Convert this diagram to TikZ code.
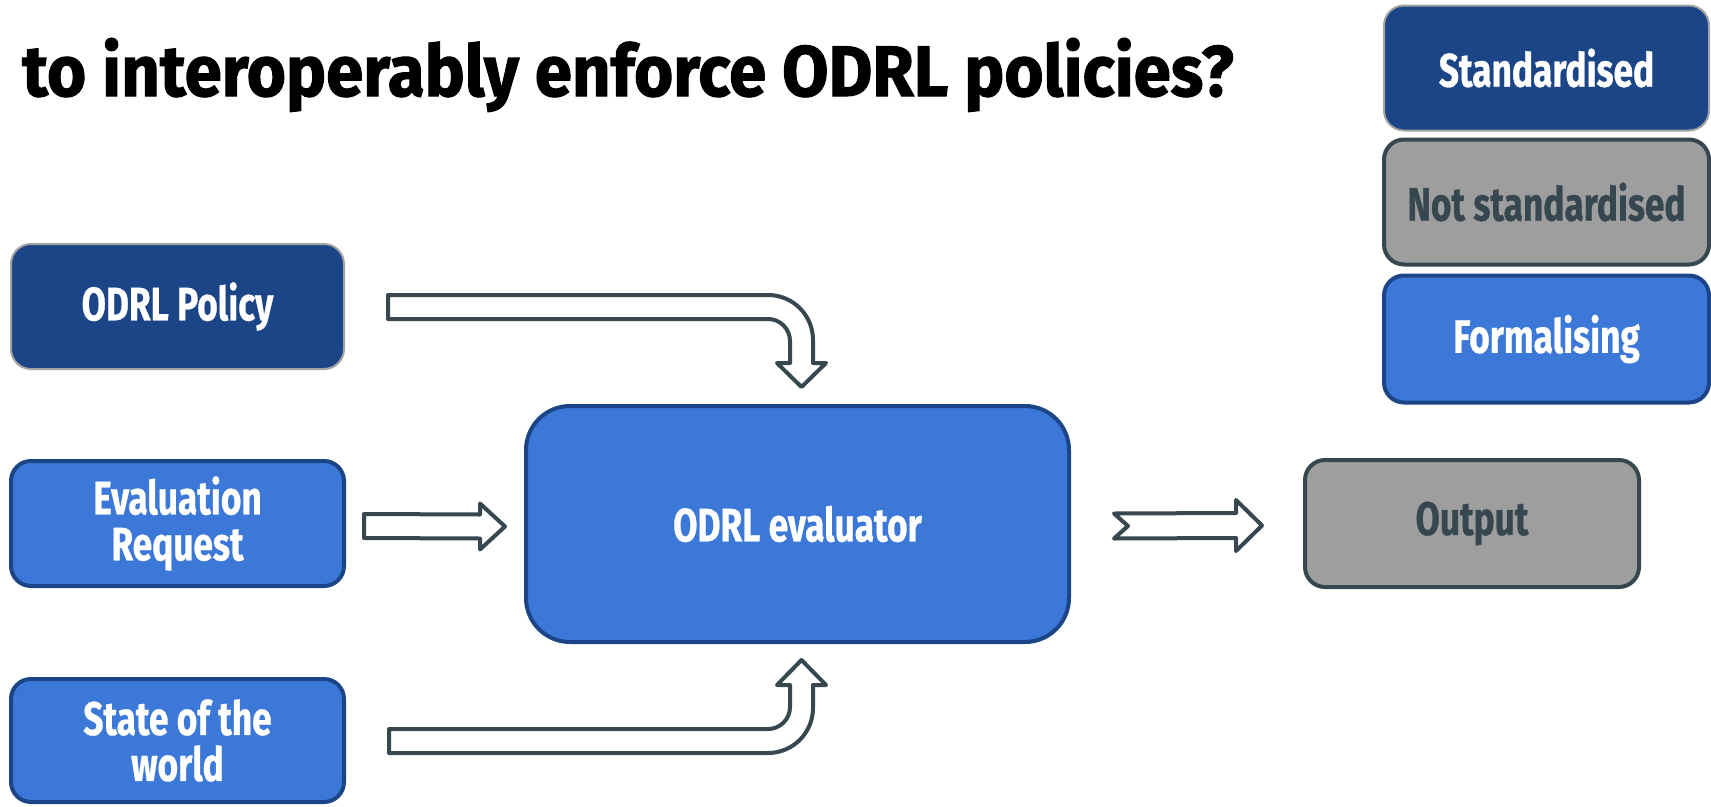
\documentclass[tikz,border=0pt]{standalone}
\usepackage{fontspec}
\setmainfont{Fira Sans}[FakeStretch=0.75, BoldFeatures={FakeBold=0.6}]
\newfontfamily\titlefont{Fira Sans}[BoldFeatures={FakeBold=1.5}]
\usetikzlibrary{calc}
\definecolor{dblue}{HTML}{1C4587}
\definecolor{lblue}{HTML}{3C78D8}
\definecolor{gfill}{HTML}{9E9E9E}
\definecolor{slate}{HTML}{37474F}
\definecolor{gborder}{HTML}{A3A3A3}
\tikzset{
  base/.style={rectangle, rounded corners=20, align=center, inner sep=0pt,
    font=\fontsize{47}{46}\selectfont\bfseries},
  stdbox/.style={base, fill=dblue, draw=gborder, line width=2, text=white},
  formbox/.style={base, fill=lblue, draw=dblue, line width=4, text=white},
  nstdbox/.style={base, fill=gfill, draw=slate, line width=4, text=slate},
  blk/.style={fill=white, draw=slate, line width=4, line join=round},
}
\begin{document}
\begin{tikzpicture}[x=1pt,y=-1pt]
\useasboundingbox[fill=white] (0,0) rectangle (1711,806);
\node[anchor=base west, inner sep=0pt] (title) at (22,96) {\resizebox{1211pt}{58pt}{\titlefont\bfseries to interoperably enforce ODRL policies?}};
% legend
\node[stdbox, minimum width=325, minimum height=125] (lstd) at (1546.5,68) {Standardised};
\node[nstdbox, minimum width=325, minimum height=125] (lnstd) at (1546.5,202) {Not standardised};
\node[formbox, minimum width=325, minimum height=127] (lform) at (1546.5,339) {Formalising};
% inputs
\node[stdbox, minimum width=333, minimum height=125] (pol) at (177.5,306.5) {ODRL Policy};
\node[formbox, minimum width=333, minimum height=125] (req) at (177.5,523.5) {Evaluation\\Request};
\node[formbox, minimum width=333, minimum height=123] (sta) at (177.5,740.5) {State of the\\world};
\node[formbox, rounded corners=44, minimum width=543, minimum height=236] (eval) at (797.5,524) {ODRL evaluator};
\node[nstdbox, minimum width=334, minimum height=127] (out) at (1472,523.5) {Output};
% arrow request -> evaluator
\coordinate (t1) at ($(req.east)+(18,2.5)$);
\coordinate (p1) at ($(eval.west)+(-19,2.5)$);
\draw[blk] ($(t1)+(0,-12)$) -- ($(p1)+(-25,-12)$) -- ($(p1)+(-25,-23)$) -- (p1)
  -- ($(p1)+(-25,23)$) -- ($(p1)+(-25,12)$) -- ($(t1)+(0,12)$) -- cycle;
% arrow evaluator -> output
\coordinate (t2) at ($(eval.east)+(43,2)$);
\coordinate (p2) at ($(out.west)+(-41,2)$);
\draw[blk] ($(t2)+(0,-12.5)$) -- ($(p2)+(-26,-12.5)$) -- ($(p2)+(-26,-25.5)$) -- (p2)
  -- ($(p2)+(-26,25.5)$) -- ($(p2)+(-26,12.5)$) -- ($(t2)+(0,12.5)$) -- ($(t2)+(14,0)$) -- cycle;
% bent arrow policy -> evaluator
\coordinate (s1) at ($(pol.east)+(43,0.5)$);
\coordinate (e1) at ($(eval.north)+(4,-17)$);
\coordinate (c1) at (e1|-s1);
\draw[blk] ($(s1)+(0,-12)$) -- ($(c1)+(-33.5,-12)$)
  .. controls ($(c1)+(-8.6,-12)$) and ($(c1)+(11.5,8.1)$) .. ($(c1)+(11.5,33)$)
  -- ($(e1)+(11.5,-24)$) -- ($(e1)+(24.5,-24)$) -- (e1) -- ($(e1)+(-24.5,-24)$)
  -- ($(e1)+(-11.5,-24)$) -- ($(c1)+(-11.5,34)$)
  .. controls ($(c1)+(-11.5,21.85)$) and ($(c1)+(-21.35,12)$) .. ($(c1)+(-33.5,12)$)
  -- ($(s1)+(0,12)$) -- cycle;
% bent arrow state -> evaluator
\coordinate (s2) at ($(sta.east)+(43,0.5)$);
\coordinate (e2) at ($(eval.south)+(4,16)$);
\coordinate (c2) at (e2|-s2);
\draw[blk] ($(s2)+(0,12)$) -- ($(c2)+(-33.5,12)$)
  .. controls ($(c2)+(-8.6,12)$) and ($(c2)+(11.5,-8.1)$) .. ($(c2)+(11.5,-33)$)
  -- ($(e2)+(11.5,25)$) -- ($(e2)+(24.5,25)$) -- (e2) -- ($(e2)+(-24.5,25)$)
  -- ($(e2)+(-11.5,25)$) -- ($(c2)+(-11.5,-34)$)
  .. controls ($(c2)+(-11.5,-21.85)$) and ($(c2)+(-21.35,-12)$) .. ($(c2)+(-33.5,-12)$)
  -- ($(s2)+(0,-12)$) -- cycle;
\end{tikzpicture}
\end{document}
